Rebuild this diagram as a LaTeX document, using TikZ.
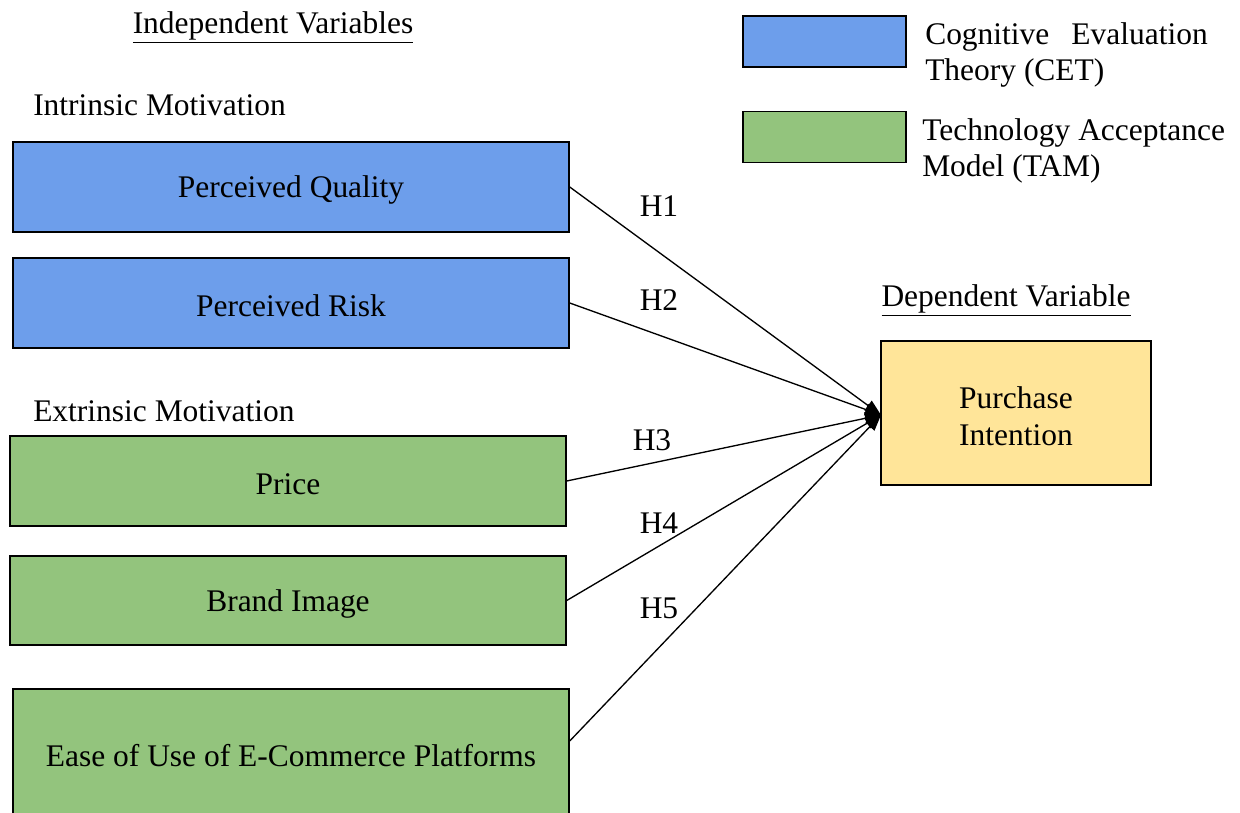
\documentclass[tikz,border=0pt]{standalone}
\usepackage{fontspec}
\setmainfont{Liberation Serif}
\usetikzlibrary{arrows.meta,calc}
\definecolor{cetblue}{RGB}{109,158,235}
\definecolor{tamgreen}{RGB}{147,196,125}
\definecolor{depyellow}{RGB}{255,229,153}
\newcommand{\dn}[1]{\raisebox{-2.4pt}[\height][\depth]{#1}}
\begin{document}
\begin{tikzpicture}[x=0.75pt,y=-0.75pt,
  every node/.style={font=\fontsize{23.6}{27.5}\selectfont, inner sep=0pt},
  varbox/.style={draw=black, line width=1.1pt, minimum width=417pt, minimum height=67.5pt, align=center},
  legbox/.style={draw=black, line width=1.1pt, minimum width=122.25pt, minimum height=38pt},
  link/.style={line width=1pt, -{Triangle[length=12pt,width=9pt]}},
  hlab/.style={anchor=center}]
\useasboundingbox (0,0) rectangle (1240,813);
\clip (0,0) rectangle (1240,813);
% titles
\node (indep) at (273,27) {\underline{Independent Variables}};
\node[anchor=west] (intr) at (33,105) {Intrinsic Motivation};
\node[anchor=west] (extr) at (33,411) {Extrinsic Motivation};
\node (dep) at (1006,300) {\underline{Dependent Variable}};
% boxes
\node[varbox, fill=cetblue] (pq) at (291,187) {\dn{Perceived Quality}};
\node[varbox, fill=cetblue] (pr) at (291,303) {\dn{Perceived Risk}};
\node[varbox, fill=tamgreen] (price) at (288,481) {\dn{Price}};
\node[varbox, fill=tamgreen, minimum height=66.75pt] (brand) at (288,600.5) {\dn{Brand Image}};
\node[varbox, fill=tamgreen, minimum height=94.5pt] (ease) at (291,752) {\dn{Ease of Use of E-Commerce Platforms}};
\node[draw=black, line width=1.1pt, fill=depyellow, minimum width=202.5pt, minimum height=108pt, align=center] (pi) at (1016,413) {\dn{Purchase}\\\dn{Intention}};
% legend
\node[legbox, fill=cetblue] (lcet) at (824.5,41.5) {};
\node[legbox, fill=tamgreen] (ltam) at (824.5,137) {};
\node[anchor=west, align=left] (tcet) at (925,55) {Cognitive\hspace{0.45em} Evaluation\\Theory (CET)};
\node[anchor=west, align=left] (ttam) at (922,151) {Technology Acceptance\\Model (TAM)};
% connectors
\coordinate (tip) at (881,415);
\coordinate (easeout) at ($(ease.east)+(0,-11)$);
\draw[link] (pq.east) -- (tip);
\draw[link] (pr.east) -- (tip);
\draw[link] (price.east) -- (tip);
\draw[link] (brand.east) -- (tip);
\draw[link] (easeout) -- (tip);
% labels
\node[hlab] (h1) at (659,206) {H1};
\node[hlab] (h2) at (659,300) {H2};
\node[hlab] (h3) at (652,440) {H3};
\node[hlab] (h4) at (659,523) {H4};
\node[hlab] (h5) at (659,608) {H5};
\end{tikzpicture}
\end{document}
